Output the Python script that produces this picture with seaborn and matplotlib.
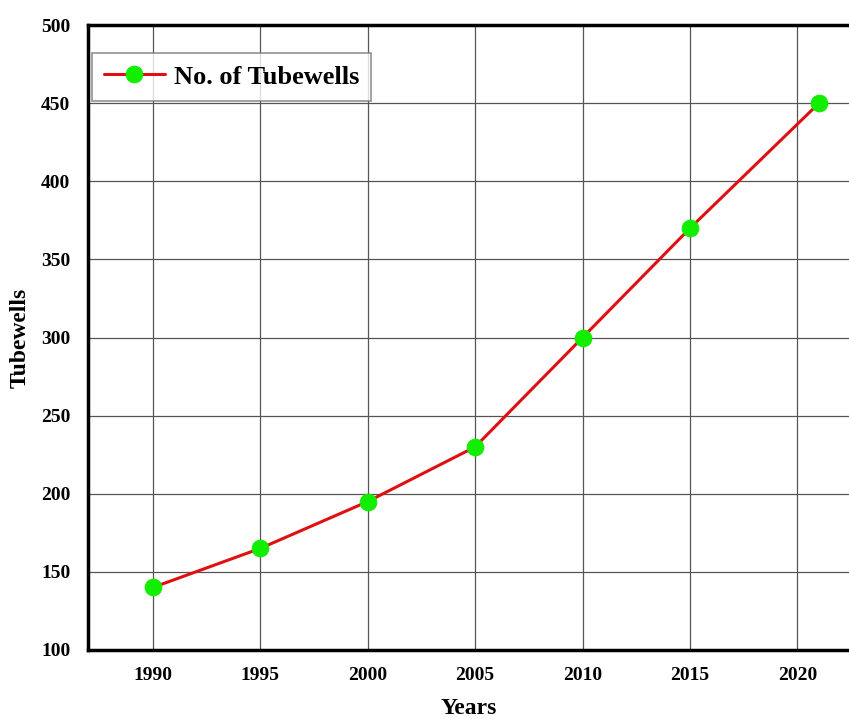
import matplotlib
matplotlib.use("Agg")
import matplotlib.pyplot as plt
import seaborn as sns
import pandas as pd

years = [1990, 1995, 2000, 2005, 2010, 2015, 2021]
tubewells = [140, 165, 195, 230, 300, 370, 450]
x_ticks = [1990, 1995, 2000, 2005, 2010, 2015, 2020]
y_ticks = [100, 150, 200, 250, 300, 350, 400, 450, 500]

df = pd.DataFrame({"Years": years, "Tubewells": tubewells})

sns.set_theme(style="whitegrid")
plt.rcParams["font.family"] = ["Liberation Serif", "DejaVu Serif"]
plt.rcParams["font.weight"] = "bold"
plt.rcParams["text.color"] = "black"
plt.rcParams["axes.labelcolor"] = "black"

fig = plt.figure(figsize=(8.49, 7.19), dpi=100)
ax = fig.add_axes([0.104, 0.096, 0.896, 0.869])

sns.lineplot(
    data=df,
    x="Years",
    y="Tubewells",
    ax=ax,
    color="#e01010",
    linewidth=2.2,
    marker="o",
    markersize=12,
    markerfacecolor="#11ee00",
    markeredgecolor="#11ee00",
    label="No. of Tubewells")

ax.set_xlim(1987, 2022.4)
ax.set_ylim(100, 500)
ax.set_xticks(x_ticks)
ax.set_yticks(y_ticks)
ax.grid(True, color="#555555", linewidth=0.9)
ax.tick_params(axis="both", length=0, labelsize=14, colors="black")
ax.tick_params(axis="x", pad=12)
ax.tick_params(axis="y", pad=13)
for lbl in ax.get_xticklabels() + ax.get_yticklabels():
    lbl.set_fontweight("bold")

for side in ["left", "bottom", "top"]:
    ax.spines[side].set_color("black")
    ax.spines[side].set_linewidth(2.5)
ax.spines["right"].set_visible(False)

ax.set_xlabel("Years", fontsize=17, fontweight="bold", labelpad=10)
ax.set_ylabel("Tubewells", fontsize=17, fontweight="bold", labelpad=7)

# legend box sits just under the top spine, near the left edge
leg = ax.legend(
    loc="upper left",
    bbox_to_anchor=(0.005, 0.955),
    fontsize=19,
    frameon=True,
    fancybox=False,
    handlelength=2.3,
    handletextpad=0.35,
    borderpad=0.45,
    borderaxespad=0)
leg.get_frame().set_edgecolor("#777777")
leg.get_frame().set_linewidth(1.2)
for t in leg.get_texts():
    t.set_fontweight("bold")
    t.set_color("black")

fig.savefig("out.png", dpi=100)
